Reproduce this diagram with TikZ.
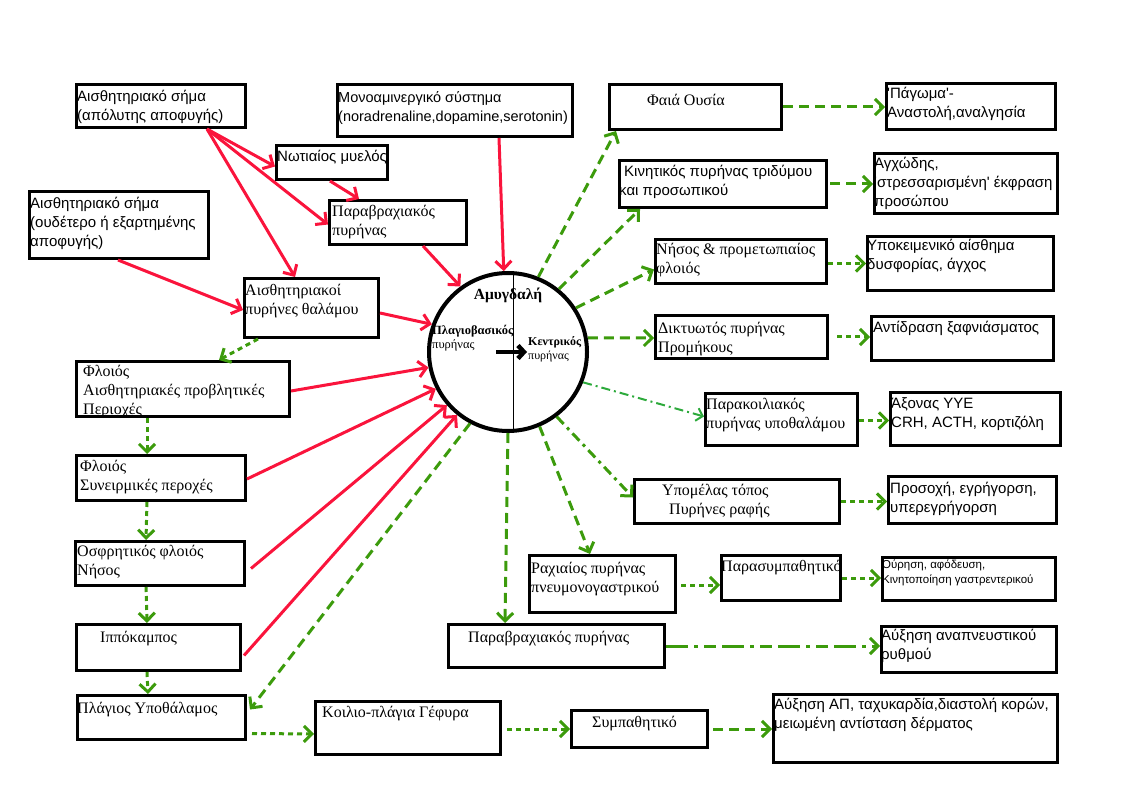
\documentclass[tikz,border=0pt]{standalone}
\usepackage{fontspec}
\setmainfont{Liberation Serif}
\newfontfamily\grsans{Liberation Sans}
\usetikzlibrary{arrows.meta}
\definecolor{redline}{RGB}{250,20,60}
\definecolor{greenline}{RGB}{60,155,12}
\definecolor{lightgreen}{RGB}{45,170,60}

\begin{document}
\begin{tikzpicture}[x=1pt, y=-1pt,
    box/.style={draw, line width=3pt, anchor=north west, inner sep=0pt},
    serifl/.style={anchor=north west, inner sep=0pt, align=left, font=\fontsize{16}{19}\selectfont},
    sansl/.style={anchor=north west, inner sep=0pt, align=left, font=\grsans\fontsize{15}{19}\selectfont},
    redarrow/.style={draw=redline, line width=3pt, -{Straight Barb[length=8pt,width=16pt]}},
    greendash/.style={draw=greenline, line width=3pt, dash pattern=on 10pt off 6pt, -{Straight Barb[length=8pt,width=16pt]}},
    greendot/.style={draw=greenline, line width=3pt, dash pattern=on 5pt off 4pt, -{Straight Barb[length=8pt,width=16pt]}}]
    \useasboundingbox (0,0) rectangle (1121,799);

    % Input boxes (left)
    \node[box, minimum width=169, minimum height=43, label={[sansl, xshift=2, yshift=-7]north west:{Αισθητηριακό σήμα\\(απόλυτης αποφυγής)}}] (sima1) at (75,83) {};
    \node[box, minimum width=111, minimum height=34, label={[sansl, xshift=2, yshift=-6]north west:{Νωτιαίος μυελός}}] (notiaios) at (275,144) {};
    \node[box, minimum width=137, minimum height=44, label={[serifl, xshift=4, yshift=-6]north west:{Παραβραχιακός\\πυρήνας}}] (parav1) at (328,199) {};
    \node[box, minimum width=179, minimum height=67, label={[sansl, xshift=2, yshift=-7]north west:{Αισθητηριακό σήμα\\(ουδέτερο ή εξαρτημένης\\αποφυγής)}}] (sima2) at (28,190) {};
    \node[box, minimum width=134, minimum height=59, label={[serifl, xshift=2, yshift=-7]north west:{Αισθητηριακοί\\πυρήνες θαλάμου}}] (thalamos) at (243,277) {};
    \node[box, minimum width=235, minimum height=52, label={[sansl, font=\grsans\fontsize{14.5}{19}\selectfont, xshift=2, yshift=-8]north west:{Μονοαμινεργικό σύστημα\\(noradrenaline,dopamine,serotonin)}}] (mono) at (336,83) {};

    % Left column
    \node[box, minimum width=213, minimum height=55, label={[serifl, xshift=8, yshift=-5]north west:{Φλοιός\\Αισθητηριακές προβλητικές\\Περιοχές}}] (floios1) at (75,360) {};
    \node[box, minimum width=169, minimum height=45, label={[serifl, xshift=5, yshift=-6]north west:{Φλοιός\\Συνειρμικές περοχές}}] (floios2) at (75,454) {};
    \node[box, minimum width=169, minimum height=44, label={[serifl, xshift=3, yshift=-5]north west:{Οσφρητικός φλοιός\\Νήσος}}] (osfr) at (74,540) {};
    \node[box, minimum width=164, minimum height=46, label={[serifl, xshift=25, yshift=-8]north west:{Ιππόκαμπος}}] (ippo) at (75,623) {};
    \node[box, minimum width=168, minimum height=44, label={[serifl, xshift=1, yshift=-8]north west:{Πλάγιος Υποθάλαμος}}] (plagios) at (76,694) {};

    % Bottom row
    \node[box, minimum width=185, minimum height=53, label={[serifl, xshift=8, yshift=-6]north west:{Κοιλιο-πλάγια Γέφυρα}}] (koilio) at (314,700) {};
    \node[box, minimum width=136, minimum height=37, label={[serifl, xshift=22, yshift=-7]north west:{Συμπαθητικό}}] (symp) at (570,709) {};
    \node[box, minimum width=284, minimum height=68, label={[sansl, xshift=2, yshift=-5]north west:{Αύξηση ΑΠ, ταχυκαρδία,διαστολή κορών,\\μειωμένη αντίσταση δέρματος}}] (afxap) at (772,693) {};

    % Amygdala
    \node[circle, draw, line width=4pt, minimum size=158, inner sep=0pt] (amyg) at (508,352) {};
    \draw[line width=0.8pt] ([xshift=5]amyg.north) -- ([xshift=5]amyg.south);
    \node[font=\bfseries\fontsize{15.5}{17}\selectfont] (amyglab) at ([yshift=57]amyg.center) {Αμυγδαλή};
    \node[anchor=north west, inner sep=0pt, align=left, font=\fontsize{12.5}{14}\selectfont] (lateral) at ([xshift=-76,yshift=27]amyg.center) {\textbf{Πλαγιοβασικός}\\πυρήνας};
    \node[anchor=north west, inner sep=0pt, align=left, font=\fontsize{12}{14}\selectfont] (central) at ([xshift=20,yshift=16]amyg.center) {\textbf{Κεντρικός}\\πυρήνας};
    \draw[line width=4.5pt, -{Straight Barb[length=6pt,width=13pt]}] ([xshift=-12]amyg.center) -- ([xshift=19]amyg.center);

    % Right column
    \node[box, minimum width=172, minimum height=45, label={[serifl, xshift=39, yshift=-11]north west:{Φαιά Ουσία}}] (faia) at (608,83) {};
    \node[box, minimum width=169, minimum height=46, label={[sansl, xshift=2, yshift=-5]north west:{'Πάγωμα'-\\Αναστολή,αναλγησία}}] (pagoma) at (885,82) {};
    \node[box, minimum width=207, minimum height=47, label={[sansl, xshift=1, yshift=-6]north west:{\hspace*{5pt}Κινητικός πυρήνας τριδύμου\\και προσωπικού}}] (kinit) at (618,159) {};
    \node[box, minimum width=183, minimum height=60, label={[sansl, xshift=1, yshift=-5]north west:{Αγχώδης,\\'στρεσσαρισμένη' έκφραση\\προσώπου}}] (agch) at (873,152) {};
    \node[box, minimum width=171, minimum height=44, label={[serifl, xshift=2, yshift=-5]north west:{Νήσος \& προμετωπιαίος\\φλοιός}}] (nisos) at (654,238) {};
    \node[box, minimum width=186, minimum height=54, label={[sansl, xshift=1, yshift=-4]north west:{Υποκειμενικό αίσθημα\\δυσφορίας, άγχος}}] (ypok) at (866,235) {};
    \node[box, minimum width=172, minimum height=43, label={[serifl, xshift=4, yshift=-8]north west:{Δικτυωτός πυρήνας\\Προμήκους}}] (diktyo) at (654,314) {};
    \node[box, minimum width=182, minimum height=44, label={[sansl, xshift=3, yshift=-6]north west:{Αντίδραση ξαφνιάσματος}}] (antid) at (870,315) {};
    \node[box, minimum width=152, minimum height=52, label={[serifl, xshift=2, yshift=-6]north west:{Παρακοιλιακός\\πυρήνας υποθαλάμου}}] (parak) at (704,392) {};
    \node[box, minimum width=170, minimum height=53, label={[sansl, xshift=2, yshift=-6]north west:{Άξονας ΥΥΕ\\CRH, ACTH, κορτιζόλη}}] (axonas) at (889,391) {};
    \node[box, minimum width=205, minimum height=44, label={[serifl, xshift=29, yshift=-6]north west:{Υπομέλας τόπος\\\hspace*{7pt}Πυρήνες ραφής}}] (ypomelas) at (633,478) {};
    \node[box, minimum width=168, minimum height=47, label={[sansl, xshift=3, yshift=-7]north west:{Προσοχή, εγρήγορση,\\υπερεγρήγορση}}] (prosoxi) at (887,475) {};
    \node[box, minimum width=146, minimum height=57, label={[serifl, xshift=3, yshift=-8]north west:{Ραχιαίος πυρήνας\\πνευμονογαστρικού}}] (rach) at (528,554) {};
    \node[box, minimum width=119, minimum height=45, label={[serifl, xshift=1, yshift=-6]north west:{Παρασυμπαθητικό}}] (parasymp) at (720,554) {};
    \node[box, minimum width=173, minimum height=43, label={[anchor=north west, inner sep=0pt, align=left, font=\grsans\fontsize{11.5}{15}\selectfont, xshift=1, yshift=-4]north west:{Ούρηση, αφόδευση,\\Κινητοποίηση γαστρεντερικού}}] (ourisi) at (881,556) {};
    \node[box, minimum width=216, minimum height=43, label={[serifl, xshift=21, yshift=-8]north west:{Παραβραχιακός πυρήνας}}] (parav2) at (447,623) {};
    \node[box, minimum width=175, minimum height=46, label={[sansl, xshift=1, yshift=-4]north west:{Αύξηση αναπνευστικού\\ρυθμού}}] (afxan) at (880,625) {};

    % Red inputs
    \draw[redarrow] ([xshift=-40]sima1.south east) -- ([yshift=-4]notiaios.west);
    \draw[redarrow] ([xshift=-40]sima1.south east) -- ([yshift=-2]parav1.west);
    \draw[redarrow] ([xshift=-40]sima1.south east) -- ([xshift=52]thalamos.north west);
    \draw[redarrow] ([xshift=-2]notiaios.south) -- ([xshift=31]parav1.north west);
    \draw[redarrow] ([xshift=90]sima2.south west) -- ([yshift=-2]thalamos.west);
    \draw[redarrow] ([xshift=-45]parav1.south east) -- (amyg.126);
    \draw[redarrow] ([xshift=44]mono.south) -- (amyg.93);
    \draw[redarrow] ([yshift=-5]thalamos.east) -- (amyg.160);
    \draw[redarrow] ([yshift=-2]floios1.east) -- (amyg.191);
    \draw[redarrow] ([yshift=-1]floios2.east) -- (amyg.207);
    \draw[redarrow] ([xshift=5,yshift=-5]osfr.east) -- (amyg.221);
    \draw[redarrow] ([xshift=2,yshift=-8]ippo.east) -- (amyg.231);

    % Green chain on the left
    \draw[greendot] ([xshift=15]thalamos.south west) -- ([xshift=144]floios1.north west);
    \draw[greendot] ([xshift=72]floios1.south west) -- ([xshift=72]floios2.north west);
    \draw[greendot] ([xshift=72]floios2.south west) -- ([xshift=72]osfr.north west);
    \draw[greendot] ([xshift=72]osfr.south west) -- ([xshift=72]ippo.north west);
    \draw[greendot] ([xshift=72]ippo.south west) -- ([xshift=72]plagios.north west);
    \draw[greendot] ([xshift=5,yshift=-16]plagios.east) -- ([yshift=-6]koilio.west);
    \draw[greendot] ([xshift=5]koilio.east |- symp.west) -- (symp.west);
    \draw[greendash] ([xshift=4]symp.east) -- (symp.east -| afxap.west);

    % Green outputs of the amygdala
    \draw[greendash] (amyg.68) -- ([xshift=8]faia.south west);
    \draw[greendash] (amyg.51) -- ([xshift=22]kinit.south west);
    \draw[greendash] (amyg.33) -- ([yshift=-8]nisos.west);
    \draw[greendash] (amyg.10) -- ([yshift=-1]diktyo.west);
    \draw[draw=lightgreen, line width=2pt, dash pattern=on 9pt off 4pt on 2pt off 4pt, -{Straight Barb[length=6pt,width=13pt]}] (amyg.-22) -- ([yshift=3]parak.west);
    \draw[draw=greenline, line width=3pt, dash pattern=on 10pt off 5pt on 3pt off 5pt, -{Straight Barb[length=8pt,width=16pt]}] (amyg.-53) -- ([yshift=4]ypomelas.west);
    \draw[greendash] (amyg.-67) -- ([xshift=62]rach.north west);
    \draw[greendash] (amyg.-90) -- ([xshift=58]parav2.north west);
    \draw[greendash] (amyg.-118) -- ([xshift=3,yshift=8]plagios.east);

    % Green links on the right
    \draw[greendash] (faia.east) -- (faia.east -| pagoma.west);
    \draw[greendash] ([xshift=2]kinit.east) -- (kinit.east -| agch.west);
    \draw[greendot] ([yshift=-2]nisos.east) -- ([yshift=-2]nisos.east -| ypok.west);
    \draw[greendot] ([xshift=8]diktyo.east) -- (diktyo.east -| antid.west);
    \draw[greendot] ([yshift=-1]parak.east) -- ([yshift=-1]parak.east -| axonas.west);
    \draw[greendot] (ypomelas.east) -- (ypomelas.east -| prosoxi.west);
    \draw[greendot] ([xshift=4,yshift=-1]rach.east) -- ([yshift=-1]rach.east -| parasymp.west);
    \draw[greendot] (parasymp.east) -- (parasymp.east -| ourisi.west);
    \draw[draw=greenline, line width=3pt, dash pattern=on 22pt off 6pt on 4pt off 6pt on 12pt off 6pt, -{Straight Barb[length=8pt,width=16pt]}] (parav2.east) -- (parav2.east -| afxan.west);
\end{tikzpicture}
\end{document}
